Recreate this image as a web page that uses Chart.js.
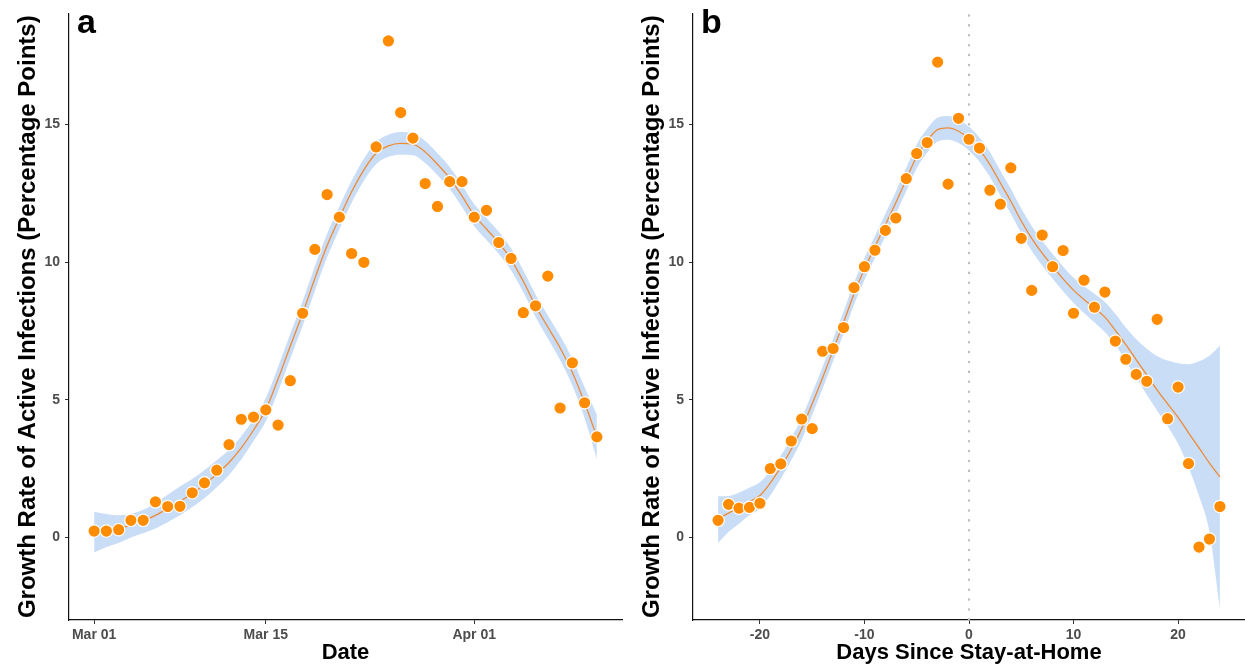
<!DOCTYPE html>
<html>
<head>
<meta charset="utf-8">
<script src="https://cdn.jsdelivr.net/npm/chart.js@4.4.0/dist/chart.umd.min.js"></script>
<style>
  html, body { margin: 0; padding: 0; background: #fff; }
  #wrap { position: relative; width: 1245px; height: 666px; }
  canvas { position: absolute; top: 0; }
  #chartA { left: 0; }
  #chartB { left: 624px; }
</style>
</head>
<body>
<div id="wrap">
  <canvas id="chartA" width="624" height="666"></canvas>
  <canvas id="chartB" width="621" height="666"></canvas>
</div>
<script>
'use strict';

// ---- panel a : by date (day 0 = Mar 01) ----
let dateTickDays = [0, 14, 31];
let dateTickLabels = ['Mar 01', 'Mar 15', 'Apr 01'];

let growthByDate = [0.23, 0.23, 0.28, 0.62, 0.62, 1.29, 1.12, 1.13, 1.62, 1.98,
  2.44, 3.37, 4.29, 4.37, 4.63, 4.08, 5.69, 8.14, 10.46, 12.45,
  11.63, 10.31, 9.99, 14.18, 18.03, 15.43, 14.50, 12.85, 12.02, 12.92,
  12.92, 11.63, 11.88, 10.71, 10.13, 8.16, 8.41, 9.49, 4.70, 6.34,
  4.89, 3.65];
let fitByDate = [0.2, 0.25, 0.33, 0.45, 0.6, 0.8, 1.05, 1.3, 1.6, 1.92,
  2.3, 2.72, 3.25, 3.9, 4.64, 5.75, 6.95, 8.13, 9.4, 10.6,
  11.6, 12.55, 13.35, 13.95, 14.22, 14.31, 14.28, 14.0, 13.55, 13.05,
  12.4, 11.7, 11.2, 10.7, 10.1, 9.3, 8.41, 7.64, 6.88, 6.0,
  4.89, 3.65];
let upperByDate = [0.93, 0.85, 0.8, 0.85, 1.0, 1.25, 1.55, 1.85, 2.12, 2.45,
  2.8, 3.17, 3.67, 4.3, 5.06, 6.2, 7.4, 8.58, 9.85, 11.03,
  12.02, 12.95, 13.75, 14.35, 14.62, 14.72, 14.68, 14.4, 13.95, 13.45,
  12.8, 12.1, 11.6, 11.1, 10.5, 9.7, 8.82, 8.06, 7.32, 6.48,
  5.45, 4.45];
let lowerByDate = [-0.55, -0.35, -0.2, 0.0, 0.15, 0.32, 0.55, 0.8, 1.1, 1.42,
  1.82, 2.27, 2.83, 3.5, 4.22, 5.3, 6.5, 7.68, 8.95, 10.17,
  11.18, 12.15, 12.95, 13.55, 13.82, 13.9, 13.88, 13.6, 13.15, 12.65,
  12.0, 11.3, 10.8, 10.3, 9.7, 8.9, 8.0, 7.22, 6.44, 5.52,
  4.33, 2.85];

// ---- panel b : days since stay-at-home (-24 .. 24) ----
let firstDay = -24;
let stayAtHomeDay = 0;
let dayTicks = [-20, -10, 0, 10, 20];

let growthByDay = [0.62, 1.20, 1.06, 1.09, 1.24, 2.50, 2.67, 3.50, 4.30, 3.95,
  6.76, 6.86, 7.62, 9.07, 9.83, 10.43, 11.15, 11.6, 13.03, 13.94,
  14.34, 17.26, 12.83, 15.22, 14.46, 14.14, 12.61, 12.10, 13.42, 10.86,
  8.97, 10.98, 9.83, 10.42, 8.14, 9.34, 8.36, 8.91, 7.13, 6.47,
  5.92, 5.67, 7.92, 4.31, 5.46, 2.68, -0.35, -0.06, 1.12];
let fitByDay = [0.68, 0.88, 1.1, 1.3, 1.52, 1.98, 2.55, 3.2, 3.95, 4.85,
  5.8, 6.8, 7.8, 8.85, 9.75, 10.55, 11.35, 12.15, 13.0, 13.84,
  14.41, 14.81, 14.87, 14.75, 14.48, 14.08, 13.54, 12.87, 12.21, 11.49,
  10.86, 10.32, 9.84, 9.39, 8.98, 8.64, 8.33, 8.0, 7.52, 7.0,
  6.45, 5.9, 5.35, 4.85, 4.36, 3.8, 3.25, 2.7, 2.2];
let upperByDay = [1.49, 1.5, 1.62, 1.8, 2.0, 2.43, 2.97, 3.6, 4.35, 5.25,
  6.2, 7.2, 8.2, 9.25, 10.15, 10.95, 11.75, 12.55, 13.42, 14.27,
  14.84, 15.24, 15.3, 15.18, 14.91, 14.52, 13.99, 13.32, 12.66, 11.94,
  11.31, 10.77, 10.29, 9.84, 9.43, 9.12, 8.85, 8.55, 8.12, 7.62,
  7.2, 6.85, 6.58, 6.42, 6.32, 6.29, 6.4, 6.6, 6.96];
let lowerByDay = [-0.2, 0.2, 0.5, 0.8, 1.04, 1.53, 2.13, 2.8, 3.55, 4.45,
  5.4, 6.4, 7.4, 8.45, 9.35, 10.15, 10.95, 11.75, 12.58, 13.41,
  13.98, 14.38, 14.44, 14.32, 14.05, 13.64, 13.09, 12.42, 11.76, 11.04,
  10.41, 9.87, 9.39, 8.94, 8.51, 8.15, 7.8, 7.45, 7.0, 6.4,
  5.8, 5.18, 4.6, 4.05, 3.4, 2.55, 1.5, 0.2, -2.6];

let yTicks = [0, 5, 10, 15];

let fontFamily = "'Liberation Sans', Arial, Helvetica, sans-serif";
let pointOrange = '#ff8c00';
let fitOrange = '#ee8a36';
let ribbonBlue = '#c9ddf7';

function toXY(values, start) {
  return values.map((v, i) => ({ x: start + i, y: v }));
}

// panel letter + optional dotted line at stay-at-home day
let panelExtras = {
  id: 'panelExtras',
  beforeDatasetsDraw(chart, args, opts) {
    if (opts.vline === undefined) return;
    let ctx = chart.ctx;
    let area = chart.chartArea;
    let x = chart.scales.x.getPixelForValue(opts.vline);
    ctx.save();
    ctx.strokeStyle = '#bdbdbd';
    ctx.lineWidth = 2.4;
    ctx.lineCap = 'round';
    ctx.setLineDash([0.1, 9.8]);
    ctx.beginPath();
    ctx.moveTo(x, area.top + 2);
    ctx.lineTo(x, area.bottom);
    ctx.stroke();
    ctx.restore();
  },
  afterDraw(chart, args, opts) {
    let ctx = chart.ctx;
    ctx.save();
    ctx.fillStyle = '#000';
    ctx.font = 'bold 34px ' + fontFamily;
    ctx.textBaseline = 'alphabetic';
    ctx.fillText(opts.letter, chart.chartArea.left + 8, 33);
    ctx.restore();
  }
};

function makePanel(canvasId, cfg) {
  let ctx = document.getElementById(canvasId).getContext('2d');
  return new Chart(ctx, {
    type: 'scatter',
    data: {
      datasets: [
        {
          label: 'observed',
          data: cfg.points,
          backgroundColor: pointOrange,
          borderColor: '#ffffff',
          borderWidth: 1.2,
          pointRadius: 6.2,
          order: 0
        },
        {
          type: 'line',
          label: 'fit',
          data: cfg.fit,
          borderColor: fitOrange,
          borderWidth: 1.3,
          pointRadius: 0,
          cubicInterpolationMode: 'monotone',
          fill: false,
          order: 1
        },
        {
          type: 'line',
          label: 'upper',
          data: cfg.upper,
          borderWidth: 0,
          borderColor: 'rgba(0,0,0,0)',
          backgroundColor: ribbonBlue,
          pointRadius: 0,
          cubicInterpolationMode: 'monotone',
          fill: '+1',
          order: 2
        },
        {
          type: 'line',
          label: 'lower',
          data: cfg.lower,
          borderWidth: 0,
          borderColor: 'rgba(0,0,0,0)',
          pointRadius: 0,
          cubicInterpolationMode: 'monotone',
          fill: false,
          order: 3
        }
      ]
    },
    options: {
      responsive: false,
      animation: false,
      layout: { autoPadding: false, padding: { top: 12, right: cfg.padRight, left: 0, bottom: 0 } },
      plugins: {
        legend: { display: false },
        tooltip: { enabled: false },
        panelExtras: { letter: cfg.letter, vline: cfg.vline }
      },
      scales: {
        x: {
          type: 'linear',
          min: cfg.xMin,
          max: cfg.xMax,
          afterBuildTicks: (s) => { s.ticks = cfg.xTicks.map(v => ({ value: v })); },
          afterFit: (s) => { s.height = 46; },
          grid: { display: true, drawOnChartArea: false, drawTicks: true, tickLength: 4, color: '#333' },
          border: { display: true, color: '#111', width: 1.2 },
          ticks: {
            padding: 3,
            maxRotation: 0,
            color: '#4d4d4d',
            font: { family: fontFamily, size: 14, weight: 'bold' },
            callback: cfg.xLabel
          },
          title: {
            display: true,
            text: cfg.xTitle,
            color: '#000',
            padding: { top: 0, bottom: 0 },
            font: { family: fontFamily, size: 22, weight: 'bold' }
          }
        },
        y: {
          type: 'linear',
          min: -3.0,
          max: 19.03,
          afterBuildTicks: (s) => { s.ticks = yTicks.map(v => ({ value: v })); },
          afterFit: (s) => { s.width = 69; },
          grid: { display: true, drawOnChartArea: false, drawTicks: true, tickLength: 4, color: '#333' },
          border: { display: true, color: '#111', width: 1.2 },
          ticks: {
            padding: 5,
            color: '#4d4d4d',
            font: { family: fontFamily, size: 14, weight: 'bold' }
          },
          title: {
            display: true,
            text: 'Growth Rate of Active Infections (Percentage Points)',
            color: '#000',
            padding: { top: 14, bottom: 0 },
            font: { family: fontFamily, size: 24, weight: 'bold' }
          }
        }
      }
    },
    plugins: [panelExtras]
  });
}

makePanel('chartA', {
  letter: 'a',
  points: toXY(growthByDate, 0),
  fit: toXY(fitByDate, 0),
  upper: toXY(upperByDate, 0),
  lower: toXY(lowerByDate, 0),
  xMin: -2.05,
  xMax: 43.05,
  padRight: 2,
  xTicks: dateTickDays,
  xLabel: (v) => dateTickLabels[dateTickDays.indexOf(v)],
  xTitle: 'Date'
});

makePanel('chartB', {
  letter: 'b',
  vline: stayAtHomeDay,
  points: toXY(growthByDay, firstDay),
  fit: toXY(fitByDay, firstDay),
  upper: toXY(upperByDay, firstDay),
  lower: toXY(lowerByDay, firstDay),
  xMin: -26.4,
  xMax: 26.4,
  padRight: 0,
  xTicks: dayTicks,
  xLabel: (v) => String(v),
  xTitle: 'Days Since Stay-at-Home'
});
</script>
</body>
</html>
